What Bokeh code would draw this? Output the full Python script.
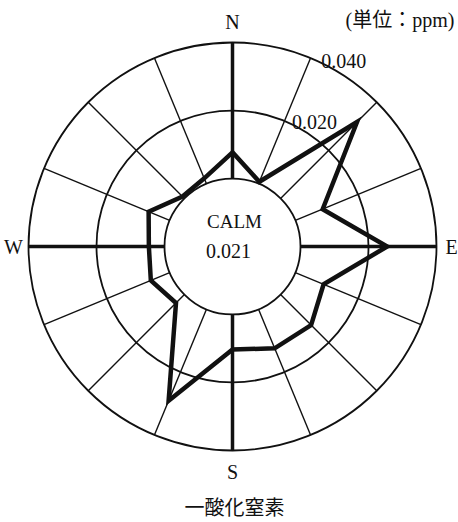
import numpy as np
from bokeh.plotting import figure
from bokeh.models import Range1d
from bokeh.core.properties import value
from bokeh.embed import file_html
from bokeh.resources import INLINE

# Mean NO concentration (ppm) by wind direction, clockwise from north
directions = ["N", "NNE", "NE", "ENE", "E", "ESE", "SE", "SSE",
              "S", "SSW", "SW", "WSW", "W", "WNW", "NW", "NNW"]
no_ppm = [0.0077, 0.0006, 0.0318, 0.0087, 0.0255, 0.0090, 0.0127, 0.0124,
          0.0103, 0.0291, 0.0035, 0.0060, 0.0046, 0.0067, 0.0008, 0.0017]
calm_ppm = 0.021
ring_values = [0.020, 0.040]
ring_labels = ["0.020", "0.040"]
cardinal_names = ["N", "E", "S", "W"]
title_text = "一酸化窒素"
unit_text = "(単位：ppm)"

# geometry: radial axis starts at the edge of the CALM circle
calm_radius = 0.020          # ppm-equivalent radius of the CALM circle
px_per_unit = 3400.0
W, H = 458, 522
cx_px, cy_px = 232, 246

p = figure(width=W, height=H, output_backend="svg", toolbar_location=None,
           x_range=Range1d(-cx_px / px_per_unit, (W - cx_px) / px_per_unit),
           y_range=Range1d(-(H - cy_px) / px_per_unit, cy_px / px_per_unit),
           min_border=0, outline_line_color=None,
           background_fill_color="white", border_fill_color="white")
p.axis.visible = False
p.grid.visible = False

ink = "#111111"
serif = value("Liberation Serif")
cjk = value("Noto Sans CJK JP")


def rad(v):
    return calm_radius + v


outer = rad(ring_values[-1])

# rings: CALM circle plus the value rings
radii = [calm_radius] + [rad(v) for v in ring_values]
p.circle(x=[0] * len(radii), y=[0] * len(radii), radius=radii,
         fill_color=None, line_color=ink, line_width=1.8)

# spokes
theta = np.deg2rad(np.arange(len(directions)) * 360.0 / len(directions))
is_cardinal = np.array([d in cardinal_names for d in directions])
sx0, sy0 = calm_radius * np.sin(theta), calm_radius * np.cos(theta)
sx1, sy1 = outer * np.sin(theta), outer * np.cos(theta)
p.segment(sx0[~is_cardinal], sy0[~is_cardinal], sx1[~is_cardinal], sy1[~is_cardinal],
          line_color=ink, line_width=1.4)
p.segment(sx0[is_cardinal], sy0[is_cardinal], sx1[is_cardinal], sy1[is_cardinal],
          line_color=ink, line_width=3.5)

# concentration rose
r = np.array([rad(v) for v in no_ppm])
lx = np.append(r * np.sin(theta), r[0] * np.sin(theta[0]))
ly = np.append(r * np.cos(theta), r[0] * np.cos(theta[0]))
p.line(lx, ly, line_color=ink, line_width=4.5, line_join="miter")

# cardinal labels: a little further out above/below than to the sides
lab_theta = theta[is_cardinal]
gap_x, gap_y = 15 / px_per_unit, 21 / px_per_unit
p.text(x=(outer + gap_x) * np.sin(lab_theta), y=(outer + gap_y) * np.cos(lab_theta),
       text=[d for d in directions if d in cardinal_names],
       text_align="center", text_baseline="middle", text_color=ink,
       text_font=serif, text_font_size="20px")

# ring value labels
ang = np.deg2rad(25.5)
rv = np.array([rad(v) for v in ring_values]) + 2 / px_per_unit
p.text(x=rv * np.sin(ang), y=rv * np.cos(ang), text=ring_labels,
       text_align="left", text_baseline="alphabetic", text_color=ink,
       text_font=serif, text_font_size="20px")

# CALM value
p.text(x=[2 / px_per_unit], y=[25 / px_per_unit], text=["CALM"],
       text_align="center", text_baseline="middle", text_color=ink,
       text_font=serif, text_font_size="19px")
p.text(x=[-4 / px_per_unit], y=[-4 / px_per_unit], text=[f"{calm_ppm:.3f}"],
       text_align="center", text_baseline="middle", text_color=ink,
       text_font=serif, text_font_size="20px")

# unit and title
p.text(x=[(W - 4 - cx_px) / px_per_unit], y=[(cy_px - 19) / px_per_unit], text=[unit_text],
       text_align="right", text_baseline="middle", text_color=ink,
       text_font=value("Liberation Serif, Noto Sans CJK JP"), text_font_size="20px")
p.text(x=[2 / px_per_unit], y=[(cy_px - 506) / px_per_unit], text=[title_text],
       text_align="center", text_baseline="middle", text_color=ink,
       text_font=cjk, text_font_size="20px")

open("out.html", "w").write(file_html(p, INLINE))
